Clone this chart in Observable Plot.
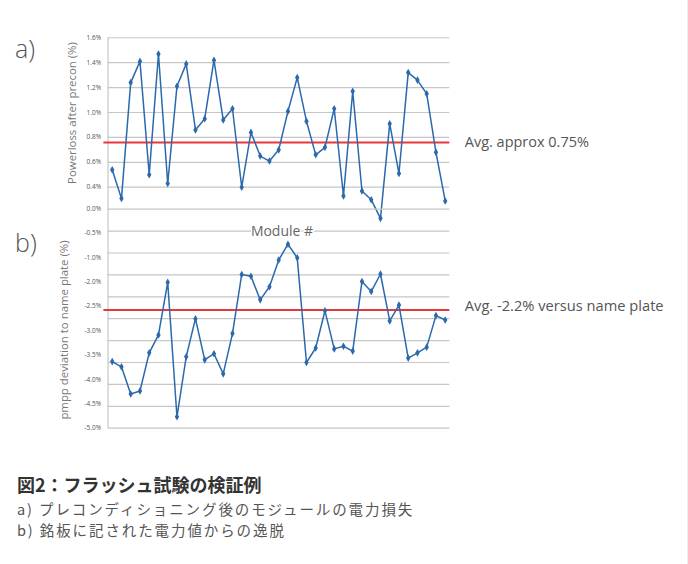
<!DOCTYPE html>
<html>
<head>
<meta charset="utf-8">
<script src="https://cdn.jsdelivr.net/npm/d3@7"></script>
<script src="https://cdn.jsdelivr.net/npm/@observablehq/plot@0.6"></script>
<style>
  html, body { margin: 0; padding: 0; background: #fff; }
  #wrap { position: relative; width: 688px; height: 564px; overflow: hidden; font-family: "Open Sans", "Noto Sans", sans-serif; border-right: 1px solid #eee; box-sizing: border-box; }
  #wrap svg { position: absolute; left: 0; top: 0; background: transparent; overflow: visible; }
  .panel { position: absolute; font-size: 25px; color: #555; font-weight: 300; line-height: 1; }
  .ytitle { position: absolute; font-size: 11.4px; color: #777; white-space: nowrap; transform: translate(-50%, -50%) rotate(-90deg); line-height: 1; }
  .cap { position: absolute; left: 17px; font-family: "Noto Sans CJK JP", sans-serif; white-space: nowrap; line-height: normal; }
</style>
</head>
<body>
<div id="wrap"></div>
<script>
// ---- data ----
const modules = d3.range(1, 38); // Module # 1..37
const powerLoss = [0.54, 0.31, 1.24, 1.41, 0.50, 1.47, 0.43, 1.21, 1.39, 0.86,
                   0.95, 1.42, 0.94, 1.03, 0.40, 0.84, 0.65, 0.61, 0.70, 1.01,
                   1.28, 0.93, 0.66, 0.72, 1.03, 0.33, 1.17, 0.37, 0.30, 0.15,
                   0.91, 0.51, 1.32, 1.26, 1.15, 0.68, 0.29];
const pmppDeviation = [-3.48, -3.60, -4.22, -4.15, -3.28, -2.87, -1.67, -4.74, -3.37, -2.50,
                       -3.44, -3.30, -3.76, -2.84, -1.49, -1.53, -2.07, -1.77, -1.16, -0.80,
                       -1.11, -3.50, -3.17, -2.32, -3.19, -3.13, -3.24, -1.65, -1.88, -1.48,
                       -2.55, -2.19, -3.40, -3.28, -3.15, -2.43, -2.53];
const avgA = 0.76;
const avgB = -2.30;
const avgALabel = "Avg. approx 0.75%";
const avgBLabel = "Avg. -2.2% versus name plate";
const ticksA = [0.4, 0.6, 0.8, 1.0, 1.2, 1.4, 1.6];
const tickLabelsA = ["0.4%", "0.6%", "0.8%", "1.0%", "1.2%", "1.4%", "1.6%"];
const gridB = [0, -0.5, -1.0, -1.5, -2.0, -2.5, -3.0, -3.5, -4.0, -4.5, -5.0];
const tickLabelsB = ["0.0%", "-0.5%", "-1.0%", "-2.0%", "-2.5%", "-3.0%", "-3.5%", "-4.0%", "-4.5%", "-5.0%"];
const xTitle = "Module #";
const yTitleA = "Powerloss after precon (%)";
const yTitleB = "pmpp deviation to name plate (%)";
const captionTitle = "図2：フラッシュ試験の検証例";
const captionA = "a) プレコンディショニング後のモジュールの電力損失";
const captionB = "b) 銘板に記された電力値からの逸脱";

// ---- styling ----
const BLUE = "#2b69ad", RED = "#e8393a", GRID = "#c6c6c6";
const xDomain = [0.55, 37.5];
const xRange = [107.7, 450];
const xMid = (xDomain[0] + xDomain[1]) / 2;
const dataA = modules.map((m, i) => ({m, v: powerLoss[i]}));
const dataB = modules.map((m, i) => ({m, v: pmppDeviation[i]}));

const wrap = document.getElementById("wrap");

// Top chart (a)
const chartA = Plot.plot({
  width: 688, height: 230,
  marginLeft: 0, marginRight: 0, marginTop: 0, marginBottom: 0,
  x: {domain: xDomain, range: xRange, axis: null},
  y: {domain: [0.4, 1.6], range: [187, 37.3], axis: null},
  style: {background: "transparent", fontFamily: "Open Sans, sans-serif"},
  marks: [
    Plot.ruleY(ticksA, {x1: xDomain[0], x2: xDomain[1], stroke: GRID, strokeWidth: 1.2}),
    Plot.ruleX([xDomain[0]], {y1: 0.22, y2: 1.6, stroke: GRID, strokeWidth: 1.2}),
    Plot.text(ticksA, {x: xDomain[0], y: d => d, text: (d, i) => tickLabelsA[i], textAnchor: "end", dx: -7, fontSize: 6.5, fill: "#555"}),
    Plot.ruleY([avgA], {x1: 0.1, x2: xDomain[1], stroke: RED, strokeWidth: 2}),
    Plot.text([avgALabel], {x: xDomain[1], y: avgA, text: d => d, textAnchor: "start", dx: 15, fontSize: 14.5, fill: "#555"}),
    Plot.line(dataA, {x: "m", y: "v", stroke: BLUE, strokeWidth: 1.5}),
    Plot.dot(dataA, {x: "m", y: "v", symbol: "diamond", r: 2.3, fill: BLUE})
  ]
});
wrap.appendChild(chartA);

// Bottom chart (b)
const n = tickLabelsB.length;
const labelPos = d3.scaleLinear().domain([1, n - 1]).range([-0.55, -5.0]);
const chartB = Plot.plot({
  width: 688, height: 440,
  marginLeft: 0, marginRight: 0, marginTop: 0, marginBottom: 0,
  x: {domain: xDomain, range: xRange, axis: null},
  y: {domain: [-5, 0], range: [428.3, 209], axis: null},
  style: {background: "transparent", fontFamily: "Open Sans, sans-serif"},
  marks: [
    Plot.ruleY(gridB, {x1: xDomain[0], x2: xDomain[1], stroke: GRID, strokeWidth: 1.2}),
    Plot.ruleX([xDomain[0]], {y1: -5, y2: 0, stroke: GRID, strokeWidth: 1.2}),
    Plot.text(tickLabelsB, {x: xDomain[0], y: (d, i) => i === 0 ? 0 : labelPos(i), text: d => d, textAnchor: "end", dx: -7, fontSize: 6.5, fill: "#555"}),
    Plot.text([xTitle], {x: xMid, y: -0.5, dx: 3, text: d => d, fontSize: 14, fill: "#666", stroke: "white", strokeWidth: 3}),
    Plot.ruleY([avgB], {x1: 0.1, x2: xDomain[1], stroke: RED, strokeWidth: 2}),
    Plot.text([avgBLabel], {x: xDomain[1], y: avgB, dy: -4, text: d => d, textAnchor: "start", dx: 15, fontSize: 14.7, fill: "#555"}),
    Plot.line(dataB, {x: "m", y: "v", stroke: BLUE, strokeWidth: 1.5}),
    Plot.dot(dataB, {x: "m", y: "v", symbol: "diamond", r: 2.3, fill: BLUE})
  ]
});
wrap.appendChild(chartB);

// Panel letters & axis titles
function add(cls, text, css) {
  const d = document.createElement("div");
  d.className = cls; d.textContent = text;
  Object.assign(d.style, css);
  wrap.appendChild(d);
}
add("panel", "a)", {left: "15px", top: "36px"});
add("panel", "b)", {left: "15px", top: "230px"});
add("ytitle", yTitleA, {left: "72px", top: "113px"});
add("ytitle", yTitleB, {left: "64px", top: "330px"});
add("cap", captionTitle, {top: "471px", fontSize: "18px", fontWeight: "700", color: "#333"});
add("cap", captionA, {top: "497.5px", fontSize: "14.5px", letterSpacing: "1.9px", color: "#555"});
add("cap", captionB, {top: "518.5px", fontSize: "14.5px", letterSpacing: "1.9px", color: "#555"});
</script>
</body>
</html>
